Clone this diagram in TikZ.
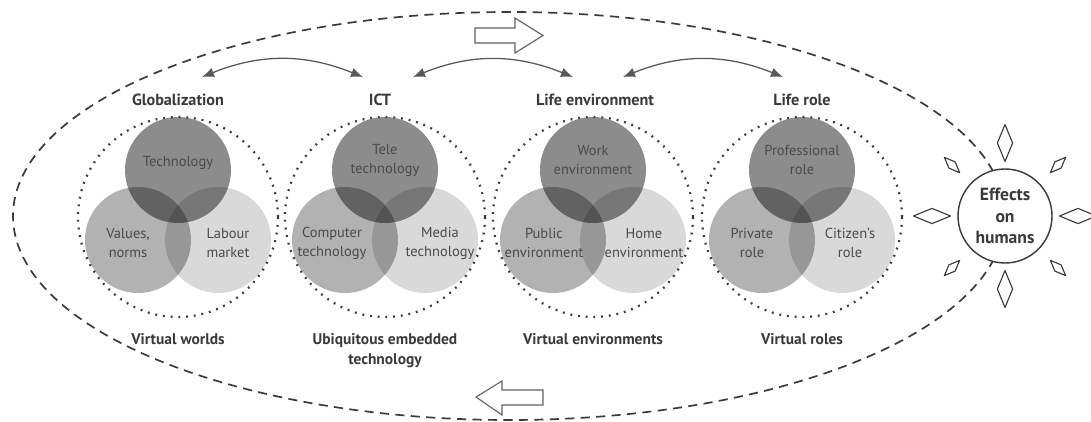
\documentclass[tikz,border=0pt]{standalone}
\usepackage{fontspec}
\setmainfont{PT Sans}
\usetikzlibrary{arrows.meta}
\definecolor{ink}{HTML}{3A3A3A}
\definecolor{txt}{HTML}{4A4A4A}

\begin{document}
\begin{tikzpicture}[
    title/.style={text=ink,font=\bfseries\fontsize{11.5}{13}\selectfont},
    sub/.style={text=ink,font=\bfseries\fontsize{11}{14}\selectfont,align=center,anchor=north},
    lbl/.style={text=txt,font=\fontsize{10.3}{13.5}\selectfont,align=center},
    topc/.style={fill=black,fill opacity=.45},
    leftc/.style={fill=black,fill opacity=.30},
    rightc/.style={fill=black,fill opacity=.15},
    ring/.style={draw=ink,line width=1.6pt,dash pattern=on 1.3pt off 4.2pt},
    link/.style={draw=ink!85,line width=.9pt,{Latex[length=3mm,width=2.4mm]}-{Latex[length=3mm,width=2.4mm]}},
    ray/.style={draw=ink,line width=.8pt,line join=round},
    hollow/.style={draw=ink!80,line width=.8pt,fill=white,line join=miter}]
\useasboundingbox (0,0) rectangle (27.275,10.525);

\draw[draw=ink,line width=1.2pt,dash pattern=on 6.5pt off 4.5pt] (12.725,5.125) ellipse (12.4 and 5.1);

\draw[hollow] (11.875,9.825) -- (12.875,9.825) -- (12.875,10.075) -- (13.575,9.6375)
    -- (12.875,9.2) -- (12.875,9.45) -- (11.875,9.45) -- cycle;
\draw[hollow] (13.575,0.775) -- (12.55,0.775) -- (12.55,1.0) -- (11.9,0.6)
    -- (12.55,0.15) -- (12.55,0.4) -- (13.575,0.4) -- cycle;

\fill[topc] (4.45,6.275) circle (1.325);
\fill[leftc] (3.45,4.525) circle (1.325);
\fill[rightc] (5.45,4.525) circle (1.325);
\draw[ring] (4.45,5.1) circle (2.5);
\node[lbl] (glob-top) at (4.45,6.45) {Technology};
\node[lbl] (glob-left) at (3.2,4.45) {Values,\\norms};
\node[lbl] (glob-right) at (5.7,4.45) {Labour\\market};

\fill[topc] (9.625,6.275) circle (1.325);
\fill[leftc] (8.625,4.525) circle (1.325);
\fill[rightc] (10.625,4.525) circle (1.325);
\draw[ring] (9.625,5.1) circle (2.5);
\node[lbl] (ict-top) at (9.625,6.525) {Tele\\technology};
\node[lbl] (ict-left) at (8.3,4.45) {Computer\\technology};
\node[lbl] (ict-right) at (11.0,4.45) {Media\\technology};

\fill[topc] (14.825,6.275) circle (1.325);
\fill[leftc] (13.825,4.525) circle (1.325);
\fill[rightc] (15.825,4.525) circle (1.325);
\draw[ring] (14.825,5.1) circle (2.5);
\node[lbl] (env-top) at (14.825,6.525) {Work\\environment};
\node[lbl] (env-left) at (13.6,4.45) {Public\\environment};
\node[lbl] (env-right) at (16.1,4.45) {Home\\environment};

\fill[topc] (20.05,6.275) circle (1.325);
\fill[leftc] (19.05,4.525) circle (1.325);
\fill[rightc] (21.05,4.525) circle (1.325);
\draw[ring] (20.05,5.1) circle (2.5);
\node[lbl] (role-top) at (20.05,6.525) {Professional\\role};
\node[lbl] (role-left) at (18.8,4.45) {Private\\role};
\node[lbl] (role-right) at (21.25,4.45) {Citizen's\\role};

\node[title] (glob) at (4.45,8.025) {Globalization};
\node[title] (ict) at (9.5,8.025) {ICT};
\node[title] (env) at (14.875,8.025) {Life environment};
\node[title] (role) at (20.05,8.025) {Life role};

\node[sub] (glob-sub) at (4.45,2.3) {Virtual worlds};
\node[sub] (ict-sub) at (9.625,2.3) {Ubiquitous embedded\\technology};
\node[sub] (env-sub) at (14.825,2.3) {Virtual environments};
\node[sub] (role-sub) at (20.05,2.3) {Virtual roles};

\coordinate (glob-r) at (5.05,8.6);
\coordinate (ict-l) at (9.075,8.6);
\coordinate (ict-r) at (10.325,8.6);
\coordinate (env-l) at (14.325,8.6);
\coordinate (env-r) at (15.575,8.6);
\coordinate (role-l) at (19.575,8.6);
\draw[link] (glob-r) to[bend left=22] (ict-l);
\draw[link] (ict-r) to[bend left=22] (env-l);
\draw[link] (env-r) to[bend left=22] (role-l);

\node[circle,draw=ink,line width=1pt,fill=white,minimum size=2.35cm,inner sep=0pt,align=center,
    text=ink,font=\bfseries\fontsize{12.5}{15.5}\selectfont] (effects) at (25.125,5.125) {Effects\\on\\humans};

\draw[ray] (25.125,7.4125) -- (25.315,6.95) -- (25.125,6.4875) -- (24.935,6.95) -- cycle;
\draw[ray] (25.125,3.7625) -- (25.315,3.3) -- (25.125,2.8375) -- (24.935,3.3) -- cycle;
\draw[ray] (23.7625,5.125) -- (23.3,5.315) -- (22.8375,5.125) -- (23.3,4.935) -- cycle;
\draw[ray] (27.4125,5.125) -- (26.95,5.315) -- (26.4875,5.125) -- (26.95,4.935) -- cycle;
\draw[ray,shift={(23.8,6.4)},rotate=135] (-0.27,0) -- (0,0.11) -- (0.27,0) -- (0,-0.11) -- cycle;
\draw[ray,shift={(26.45,6.4)},rotate=45] (-0.27,0) -- (0,0.11) -- (0.27,0) -- (0,-0.11) -- cycle;
\draw[ray,shift={(23.8,3.825)},rotate=45] (-0.27,0) -- (0,0.11) -- (0.27,0) -- (0,-0.11) -- cycle;
\draw[ray,shift={(26.45,3.825)},rotate=135] (-0.27,0) -- (0,0.11) -- (0.27,0) -- (0,-0.11) -- cycle;

\end{tikzpicture}
\end{document}
